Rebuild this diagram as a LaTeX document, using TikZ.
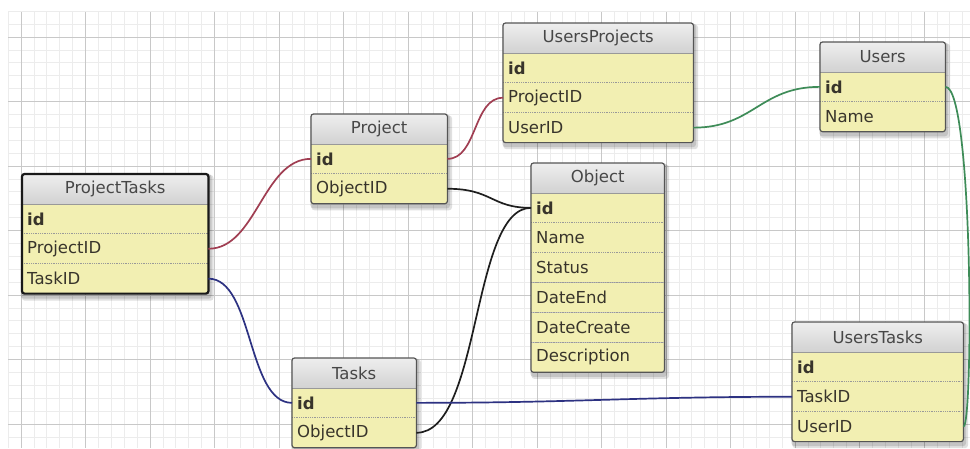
\documentclass[tikz,border=0pt]{standalone}
\usepackage{fontspec}
\setmainfont{DejaVu Sans}
\usepackage{tikz}
\usetikzlibrary{positioning, fit}
\definecolor{rowyellow}{RGB}{242,239,178}
\definecolor{headtop}{RGB}{238,238,238}
\definecolor{headbot}{RGB}{210,210,210}
\definecolor{framegray}{RGB}{85,85,85}
\definecolor{minorgrid}{RGB}{236,236,236}
\definecolor{majorgrid}{RGB}{200,200,200}
\definecolor{linkred}{RGB}{160,62,82}
\definecolor{linkblue}{RGB}{45,50,130}
\definecolor{linkgreen}{RGB}{62,140,88}
\definecolor{linkblack}{RGB}{30,30,30}
\pgfdeclarelayer{bg}
\pgfsetlayers{bg,main}
\tikzstyle{head} = [rectangle, inner sep=0pt, minimum height=29.5pt, text centered, top color=headtop, bottom color=headbot, text=black!72, font=\fontsize{16.5}{19}\selectfont]
\tikzset{field/.style={rectangle, inner xsep=5pt, inner ysep=0pt, minimum height=29.5pt, text width=#1, align=left, fill=rowyellow, text=black!80!olive, font=\fontsize{16.5}{19}\selectfont}}
\tikzstyle{key} = [font=\fontsize{16.5}{19}\selectfont\bfseries]
\tikzstyle{frame} = [rectangle, inner sep=0pt, draw=framegray, line width=1.2pt, rounded corners=2.5pt]
\tikzstyle{selected} = [draw=black!90, line width=2.2pt]
\tikzstyle{sep} = [black!40, densely dotted, line width=0.8pt]
\tikzstyle{headsep} = [black!40, line width=0.8pt]
\tikzstyle{shade} = [black, opacity=0.12, rounded corners=3pt]
\tikzstyle{link} = [line width=1.7pt]

\begin{document}
\begin{tikzpicture}[x=1pt, y=-1pt]
    \useasboundingbox (0,0) rectangle (970,448);
    \clip (0,0) rectangle (970,448);
    % background grid
    \begin{pgfonlayer}{bg}
    \fill [white] (0,0) rectangle (970,448);
    \foreach \i in {-1,...,74}
        \draw [minorgrid, line width=0.7pt] ({21+\i*12.9},12) -- ({21+\i*12.9},448);
    \foreach \j in {-2,...,32}
        \draw [minorgrid, line width=0.7pt] (8,{37+\j*12.9}) -- (970,{37+\j*12.9});
    \foreach \i in {0,...,15}
        \draw [majorgrid, line width=0.9pt] ({21+\i*64.5},12) -- ({21+\i*64.5},448);
    \foreach \j in {0,...,6}
        \draw [majorgrid, line width=0.9pt] (8,{37+\j*64.5}) -- (970,{37+\j*64.5});
    \end{pgfonlayer}

    % ProjectTasks
    \node (ptHead) [head, minimum width=186pt, anchor=north west] at (22,174) {ProjectTasks};
    \node (ptId) [field=176pt, key, below=0pt of ptHead] {id};
    \node (ptProjectID) [field=176pt, below=0pt of ptId] {ProjectID};
    \node (ptTaskID) [field=176pt, below=0pt of ptProjectID] {TaskID};
    \draw [headsep] (ptHead.south west) -- (ptHead.south east);
    \draw [sep] (ptId.south west) -- (ptId.south east);
    \draw [sep] (ptProjectID.south west) -- (ptProjectID.south east);
    \node (ptFrame) [frame, selected, fit=(ptHead)(ptTaskID)] {};

    % Project
    \node (prHead) [head, minimum width=136pt, anchor=north west] at (311,114) {Project};
    \node (prId) [field=126pt, key, below=0pt of prHead] {id};
    \node (prObjectID) [field=126pt, below=0pt of prId] {ObjectID};
    \draw [headsep] (prHead.south west) -- (prHead.south east);
    \draw [sep] (prId.south west) -- (prId.south east);
    \node (prFrame) [frame, fit=(prHead)(prObjectID)] {};

    % UsersProjects
    \node (upHead) [head, minimum width=190pt, anchor=north west] at (503,23) {UsersProjects};
    \node (upId) [field=180pt, key, below=0pt of upHead] {id};
    \node (upProjectID) [field=180pt, below=0pt of upId] {ProjectID};
    \node (upUserID) [field=180pt, below=0pt of upProjectID] {UserID};
    \draw [headsep] (upHead.south west) -- (upHead.south east);
    \draw [sep] (upId.south west) -- (upId.south east);
    \draw [sep] (upProjectID.south west) -- (upProjectID.south east);
    \node (upFrame) [frame, fit=(upHead)(upUserID)] {};

    % Users
    \node (usHead) [head, minimum width=125pt, anchor=north west] at (820,42) {Users};
    \node (usId) [field=115pt, key, below=0pt of usHead] {id};
    \node (usName) [field=115pt, below=0pt of usId] {Name};
    \draw [headsep] (usHead.south west) -- (usHead.south east);
    \draw [sep] (usId.south west) -- (usId.south east);
    \node (usFrame) [frame, fit=(usHead)(usName)] {};

    % Object
    \node (obHead) [head, minimum width=133pt, anchor=north west] at (531,163) {Object};
    \node (obId) [field=123pt, key, below=0pt of obHead] {id};
    \node (obName) [field=123pt, below=0pt of obId] {Name};
    \node (obStatus) [field=123pt, below=0pt of obName] {Status};
    \node (obDateEnd) [field=123pt, below=0pt of obStatus] {DateEnd};
    \node (obDateCreate) [field=123pt, below=0pt of obDateEnd] {DateCreate};
    \node (obDescription) [field=123pt, below=0pt of obDateCreate] {Description};
    \draw [headsep] (obHead.south west) -- (obHead.south east);
    \foreach \f in {obId, obName, obStatus, obDateEnd, obDateCreate}
        \draw [sep] (\f.south west) -- (\f.south east);
    \node (obFrame) [frame, fit=(obHead)(obDescription)] {};

    % Tasks
    \node (tsHead) [head, minimum width=124pt, anchor=north west] at (292,358) {Tasks};
    \node (tsId) [field=114pt, key, below=0pt of tsHead] {id};
    \node (tsObjectID) [field=114pt, below=0pt of tsId] {ObjectID};
    \draw [headsep] (tsHead.south west) -- (tsHead.south east);
    \draw [sep] (tsId.south west) -- (tsId.south east);
    \node (tsFrame) [frame, fit=(tsHead)(tsObjectID)] {};

    % UsersTasks
    \node (utHead) [head, minimum width=171pt, anchor=north west] at (792,322) {UsersTasks};
    \node (utId) [field=161pt, key, below=0pt of utHead] {id};
    \node (utTaskID) [field=161pt, below=0pt of utId] {TaskID};
    \node (utUserID) [field=161pt, below=0pt of utTaskID] {UserID};
    \draw [headsep] (utHead.south west) -- (utHead.south east);
    \draw [sep] (utId.south west) -- (utId.south east);
    \draw [sep] (utTaskID.south west) -- (utTaskID.south east);
    \node (utFrame) [frame, fit=(utHead)(utUserID)] {};

    % shadows
    \begin{pgfonlayer}{bg}
    \foreach \t in {pt, pr, up, us, ob, ts, ut} {
        \fill [shade] ([xshift=1pt, yshift=-6pt]\t Frame.south west) rectangle ([xshift=4pt, yshift=-2pt]\t Frame.north east);
        \fill [shade] ([xshift=0pt, yshift=-4pt]\t Frame.south west) rectangle ([xshift=2pt, yshift=-1pt]\t Frame.north east);
    }
    \end{pgfonlayer}

    % links
    \draw [link, linkred] (ptProjectID.east) .. controls +(48,0) and +(-48,0) .. (prId.west);
    \draw [link, linkred] (prId.east) .. controls +(30,0) and +(-30,0) .. (upProjectID.west);
    \draw [link, linkblack] (prObjectID.east) .. controls +(45,0) and +(-40,0) .. (obId.west);
    \draw [link, linkblack] (tsObjectID.east) .. controls +(65,0) and +(-60,0) .. (obId.west);
    \draw [link, linkblue] (ptTaskID.east) .. controls +(45,0) and +(-45,0) .. (tsId.west);
    \draw [link, linkblue] (tsId.east) .. controls +(160,0) and +(-160,0) .. (utTaskID.west);
    \draw [link, linkgreen] (upUserID.east) .. controls +(60,0) and +(-60,0) .. (usId.west);
    \draw [link, linkgreen] (usId.east) .. controls +(28,0) and +(10,0) .. (utUserID.east);
\end{tikzpicture}
\end{document}
